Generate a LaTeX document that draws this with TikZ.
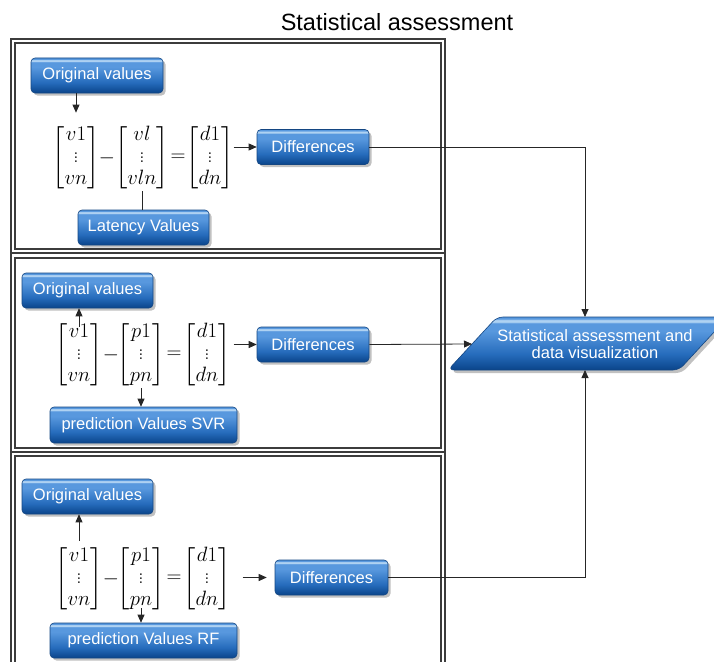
\documentclass[tikz,border=0pt]{standalone}
\usepackage{amsmath}
\usepackage{fontspec}
\newfontfamily\arialfont{Liberation Sans}
\usetikzlibrary{arrows.meta,shadows}
\definecolor{bdark}{RGB}{10,68,138}
\definecolor{bmid}{RGB}{38,108,188}
\definecolor{blight}{RGB}{88,152,222}
\definecolor{bhigh}{RGB}{175,210,242}
\definecolor{bborder}{RGB}{20,70,130}
\definecolor{framecol}{RGB}{60,60,60}
\pgfdeclareverticalshading{glossy}{100bp}{color(0bp)=(bdark); color(25bp)=(bdark); color(40bp)=(bmid); color(62bp)=(blight); color(69bp)=(blight); color(70.5bp)=(bhigh); color(72bp)=(bhigh); color(73.5bp)=(blight); color(100bp)=(blight)}
\begin{document}
\begin{tikzpicture}[x=1pt,y=-1pt,
  bluebox/.style={draw=bborder, line width=0.6pt, rounded corners=4pt, shading=glossy,
    text=white, font=\arialfont\fontsize{16.5}{17}\selectfont, inner sep=0pt,
    drop shadow={shadow xshift=2.5pt, shadow yshift=-2.5pt, opacity=0.35, fill=black!70}},
  frame/.style={draw=framecol, line width=1.1pt},
  mat/.style={inner sep=0pt, font=\fontsize{21}{22}\selectfont},
  conn/.style={draw=black!85, line width=0.8pt},
  arr/.style={conn, -{Triangle[length=8pt,width=7pt]}}]
\useasboundingbox (0,0) rectangle (714,661);

% title
\node[font=\arialfont\fontsize{23.5}{26}\selectfont] (title) at (397,22) {Statistical assessment};

% frames
\draw[frame] (11,39) rectangle (445,253);
\draw[frame] (15,43) rectangle (441,249);
\draw[frame] (11,253) rectangle (445,452);
\draw[frame] (15,258) rectangle (441,448);
\draw[frame] (11,452) rectangle (445,690);
\draw[frame] (15,456) rectangle (441,690);

% parallelogram
\shade[shading=glossy, draw=bborder, line width=0.6pt, rounded corners=6pt,
  drop shadow={shadow xshift=3pt, shadow yshift=-3pt, opacity=0.35, fill=black!70}]
  (448,370) -- (497,317) -- (728,317) -- (679,370) -- cycle;
\node[text=white, font=\arialfont\fontsize{16.5}{17.5}\selectfont, align=center] (dv) at (595,344) {Statistical assessment and\\data visualization};
\coordinate (dvtop) at (585,317);
\coordinate (dvbot) at (585,370);
\coordinate (dvleft) at (472,344);

% ---------- panel 1
\node[bluebox, minimum width=132pt, minimum height=35pt] (ov1) at (97,75.5) {Original values};
\node[bluebox, minimum width=112pt, minimum height=35pt] (d1) at (313,147) {Differences};
\node[bluebox, minimum width=131pt, minimum height=35pt] (lat) at (143.5,227.5) {Latency Values};
\node[mat] (m11) at (76,158) {$\begin{bmatrix} v1\\ \vdots\\ vn\end{bmatrix}$};
\node[mat] (mi1) at (107,158) {$-$};
\node[mat] (m12) at (142,158) {$\begin{bmatrix} vl\\ \vdots\\ vln\end{bmatrix}$};
\node[mat] (eq1) at (178,158) {$=$};
\node[mat] (m13) at (210,158) {$\begin{bmatrix} d1\\ \vdots\\ dn\end{bmatrix}$};
\draw[arr, shorten >=12pt] (ov1.south -| m11.north) -- (m11.north);
\draw[conn] (m12.south) -- (m12.south |- lat.north);
\draw[arr] (m13.east |- d1.west) -- (d1.west);
\draw[arr] (d1.east) -| (dvtop);

% ---------- panel 2
\node[bluebox, minimum width=131pt, minimum height=35pt] (ov2) at (87.5,290.5) {Original values};
\node[bluebox, minimum width=112pt, minimum height=35pt] (d2) at (313,344.5) {Differences};
\node[bluebox, minimum width=187pt, minimum height=36pt] (svr) at (143.5,425) {prediction Values SVR};
\node[mat] (m21) at (79,355) {$\begin{bmatrix} v1\\ \vdots\\ vn\end{bmatrix}$};
\node[mat] (mi2) at (111,355) {$-$};
\node[mat] (m22) at (141,355) {$\begin{bmatrix} p1\\ \vdots\\ pn\end{bmatrix}$};
\node[mat] (eq2) at (174,355) {$=$};
\node[mat] (m23) at (207,355) {$\begin{bmatrix} d1\\ \vdots\\ dn\end{bmatrix}$};
\draw[arr] ([yshift=-5pt]m21.north) -- (m21.north |- ov2.south);
\draw[arr] (m22.south) -- (m22.south |- svr.north);
\draw[arr, shorten <=3pt] (m23.east |- d2.west) -- (d2.west);
\draw[arr] (d2.east) -- (dvleft);

% ---------- panel 3
\node[bluebox, minimum width=131pt, minimum height=35pt] (ov3) at (87.5,496.5) {Original values};
\node[bluebox, minimum width=113pt, minimum height=35pt] (d3) at (331.5,577.5) {Differences};
\node[bluebox, minimum width=187pt, minimum height=35pt] (rf) at (143.5,640.5) {prediction Values RF};
\node[mat] (m31) at (79,579) {$\begin{bmatrix} v1\\ \vdots\\ vn\end{bmatrix}$};
\node[mat] (mi3) at (111,579) {$-$};
\node[mat] (m32) at (141,579) {$\begin{bmatrix} p1\\ \vdots\\ pn\end{bmatrix}$};
\node[mat] (eq3) at (174,579) {$=$};
\node[mat] (m33) at (207,579) {$\begin{bmatrix} d1\\ \vdots\\ dn\end{bmatrix}$};
\draw[arr, shorten <=5pt] (m31.north) -- (m31.north |- ov3.south);
\draw[arr] ([yshift=4pt]m32.south) -- (m32.south |- rf.north);
\draw[arr, shorten <=12pt, shorten >=8pt] (m33.east |- d3.west) -- (d3.west);
\draw[arr] (d3.east) -| (dvbot);
\end{tikzpicture}
\end{document}
